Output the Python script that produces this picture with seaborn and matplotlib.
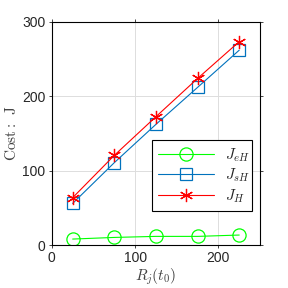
import matplotlib
matplotlib.use("Agg")
import matplotlib.pyplot as plt
import seaborn as sns
import pandas as pd

# valeurs
r_j = [25, 75, 125, 175, 225]
j_eh = [8.1, 10.3, 11.7, 11.7, 13.5]
j_sh = [56, 110.8, 162.3, 212, 262]
j_h = [63.7, 120.6, 172.6, 224, 273.5]

series = [
    ("$J_{eH}$", j_eh, "#00ff00", "o", 9.5),
    ("$J_{sH}$", j_sh, "#0072bd", "s", 8.5),
    ("$J_H$", j_h, "#ff0000", "*", 9.5),
]

sns.set_theme(style="whitegrid")
plt.rcParams["font.family"] = ["Liberation Sans", "DejaVu Sans"]
plt.rcParams["mathtext.fontset"] = "cm"

fig = plt.figure(figsize=(2.88, 2.88), dpi=100)
ax = fig.add_axes([0.18, 0.149, 0.723, 0.775])
ax.set_facecolor("white")

for label, vals, color, marker, ms in series:
    df = pd.DataFrame({"x": r_j, "y": vals})
    if marker == "*":
        ax.plot(df["x"], df["y"], color=color, lw=0.8, label=label,
                marker=(6, 2, 0), markersize=ms, markeredgewidth=0.9,
                markeredgecolor=color)
    else:
        sns.lineplot(data=df, x="x", y="y", ax=ax, color=color, lw=0.8,
                     marker=marker, markersize=ms, markerfacecolor="none",
                     markeredgecolor=color, markeredgewidth=0.9, label=label)

ax.set_xlim(0, 250)
ax.set_ylim(0, 300)
ax.set_xticks([0, 100, 200])
ax.set_yticks([0, 100, 200, 300])
ax.grid(True, color="#dddddd", lw=0.7)
for s in ax.spines.values():
    s.set_color("black")
    s.set_linewidth(0.8)
ax.tick_params(direction="out", length=2.5, width=0.6, colors="#262626",
               labelsize=10, top=True, right=True, bottom=True, left=True,
               labeltop=False, labelright=False, pad=2)
ax.set_xlabel("$R_j(t_0)$", fontsize=11, color="#404040", labelpad=1)
ax.set_ylabel(r"$\mathrm{Cost{:}\;\,J}$", fontsize=11, color="#404040",
              labelpad=2)

leg = ax.legend(loc="lower left", bbox_to_anchor=(0.48, 0.152, 0.48, 0.292),
                mode="expand", fontsize=11, frameon=True, fancybox=False,
                edgecolor="black", framealpha=1, handlelength=3.7,
                borderaxespad=0, labelspacing=0.2, borderpad=0.4,
                handletextpad=0.7)
leg.get_frame().set_linewidth(0.8)

fig.savefig("out.png", dpi=100)
